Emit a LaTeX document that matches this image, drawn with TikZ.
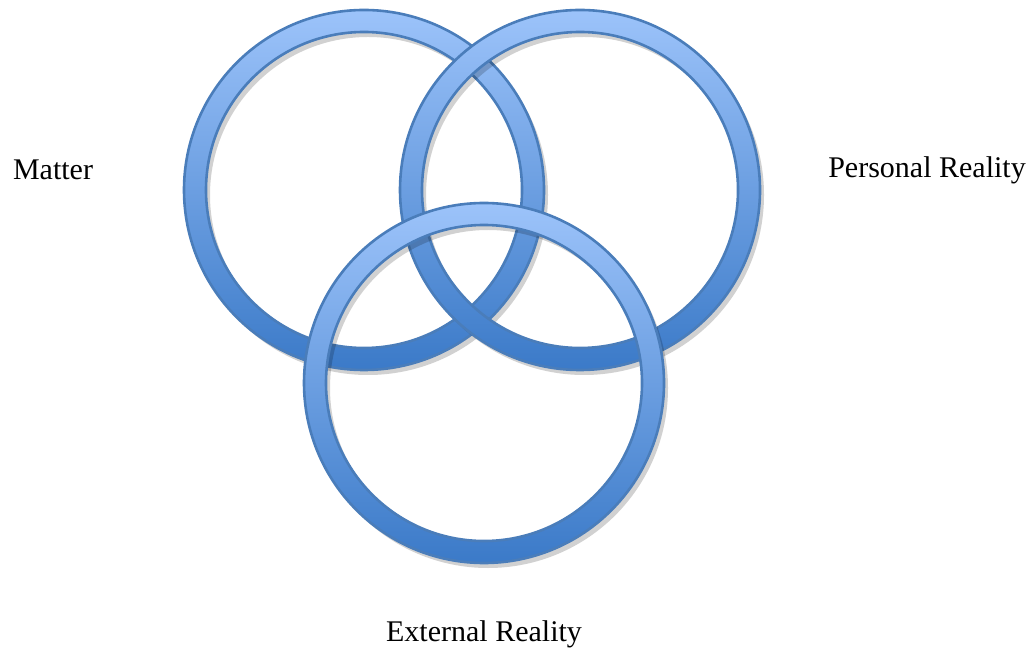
\documentclass[tikz,border=0pt]{standalone}
\usepackage{fontspec}
\setmainfont{Liberation Serif}
\usetikzlibrary{shadows}

\definecolor{ringtop}{HTML}{9CC3FA}
\definecolor{ringbot}{HTML}{3B7AC8}
\definecolor{ringline}{HTML}{4A7DBA}

% ring as two opposite arcs, so the hole stays empty
\newcommand{\ringpath}[2]{($(#1,#2)+(180,0)$) arc[start angle=0, end angle=360, radius=180]
    ($(#1,#2)+(158,0)$) arc[start angle=360, end angle=0, radius=158]}

\usetikzlibrary{calc}

\begin{document}
\begin{tikzpicture}[x=0.5pt, y=-0.5pt,
    ring/.style={draw=ringline, line width=1.3pt, top color=ringtop, bottom color=ringbot,
        drop shadow={shadow xshift=2pt, shadow yshift=-2.5pt, opacity=0.18, fill=black}},
    label/.style={font=\fontsize{15}{18}\selectfont, text=black, inner sep=0pt}
]
\useasboundingbox (0,0) rectangle (1031,651);

% rings, matter first, external reality on top
\path[ring] \ringpath{364}{190};
\path[ring] \ringpath{580}{190};
\path[ring] \ringpath{484}{383};

\node[label] (matter) at (53,170) {Matter};
\node[label] (personal) at (927,170) {Personal Reality};
\node[label] (external) at (484,634) {External Reality};
\end{tikzpicture}
\end{document}
